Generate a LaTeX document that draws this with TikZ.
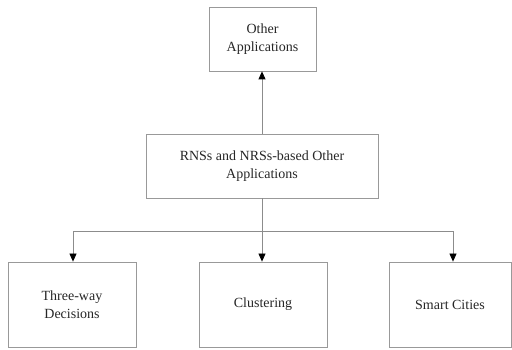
\documentclass[tikz,border=0pt]{standalone}
\usepackage{fontspec}
\setmainfont{Liberation Serif}
\usetikzlibrary{arrows.meta}
\begin{document}
\begin{tikzpicture}[x=1pt,y=1pt,
  box/.style={draw=black!40, line width=0.8pt, rectangle, align=center, inner sep=0pt,
    font=\fontsize{14}{18}\selectfont, text=black!85},
  conn/.style={draw=black!45, line width=0.8pt, -{Triangle[width=7pt,length=8pt,color=black]}}
]
\useasboundingbox (0,0) rectangle (512,350);
\node[box, minimum width=107pt, minimum height=64pt] (top) at (262.5,311) {Other\\Applications};
\node[box, minimum width=232pt, minimum height=64pt] (mid) at (262,184) {RNSs and NRSs-based Other\\Applications};
\node[box, minimum width=128pt, minimum height=85pt] (left) at (72,45.5) {Three-way\\Decisions};
\node[box, minimum width=128pt, minimum height=85pt] (center) at (263,45.5) {Clustering};
\node[box, minimum width=122pt, minimum height=85pt] (right) at (450,45.5) {Smart Cities};
\draw[conn] (mid.north) -- (mid.north |- top.south);
\draw[conn] (mid.south) -- (mid.south |- center.north);
\draw[conn] (mid.south) -- ++(0,-33) -| ([xshift=1pt]left.north);
\draw[conn] (mid.south) -- ++(0,-33) -| ([xshift=3pt]right.north);
\end{tikzpicture}
\end{document}
